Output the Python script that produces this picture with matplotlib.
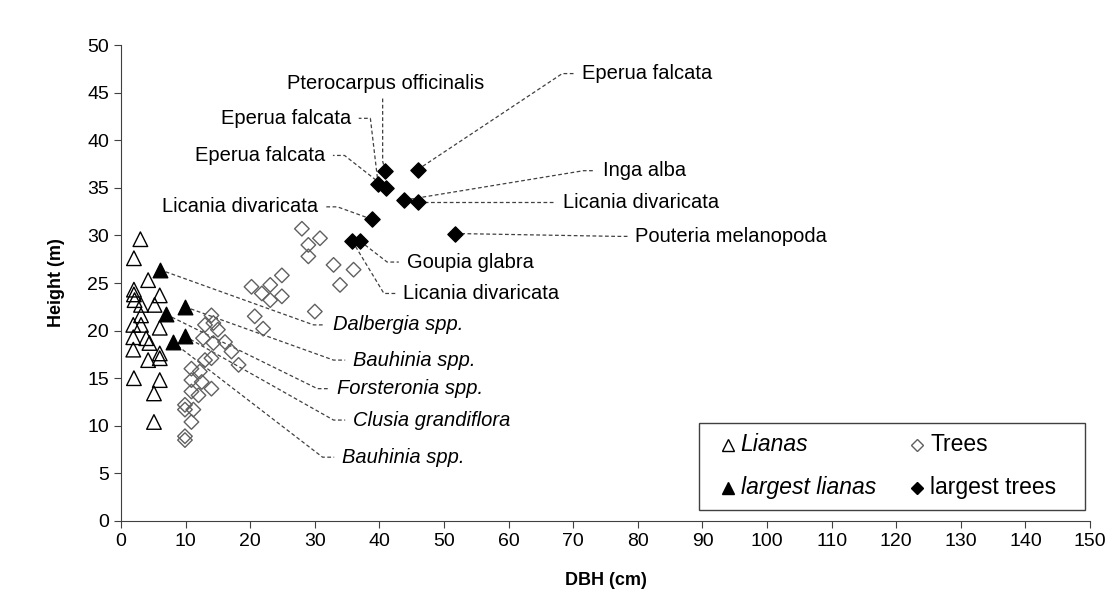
import matplotlib
matplotlib.use("Agg")
import matplotlib.pyplot as plt
from matplotlib.patches import Rectangle

plt.rcParams['font.family'] = ['Liberation Sans', 'DejaVu Sans']

# === data ===
lianas_dbh = [3.0, 2.0, 4.2, 2.0, 2.0, 2.1, 6.0, 5.2, 3.1, 3.1, 1.9, 3.1, 6.0, 1.9,
              3.9, 4.4, 1.9, 4.2, 6.0, 6.0, 2.0, 6.0, 5.1, 5.1]
lianas_h = [29.6, 27.6, 25.3, 24.3, 23.8, 23.2, 23.7, 22.7, 22.7, 21.6, 20.6, 20.6, 20.3, 19.3,
            19.2, 18.7, 18.0, 16.9, 17.1, 17.6, 15.0, 14.8, 13.4, 10.4]

trees_dbh = [14.0, 13.0, 14.3, 15.0, 12.7, 14.3, 16.1, 17.1, 13.0, 14.0, 18.2, 10.9,
             12.2, 10.9, 12.5, 14.0, 10.9, 12.0, 9.9, 11.2, 9.9, 10.9, 9.9, 9.9,
             28.0, 30.8, 29.0, 29.0, 32.9, 36.0, 33.9, 24.9, 20.2, 23.1, 21.8, 24.9,
             23.1, 30.0, 20.7, 22.0]
trees_h = [21.6, 20.6, 20.8, 20.1, 19.2, 18.7, 18.8, 17.8, 16.9, 17.1, 16.4, 16.0,
           15.7, 14.8, 14.6, 13.9, 13.6, 13.2, 12.2, 11.7, 11.7, 10.4, 8.9, 8.5,
           30.7, 29.7, 29.0, 27.8, 26.9, 26.4, 24.8, 25.8, 24.6, 24.8, 23.9, 23.6,
           23.2, 22.0, 21.5, 20.2]

big_lianas_dbh = [6.0, 9.9, 7.0, 8.0, 9.9]
big_lianas_h = [26.4, 22.5, 21.7, 18.8, 19.4]
big_lianas_names = ['Dalbergia spp.', 'Bauhinia spp.', 'Forsteronia spp.',
                    'Bauhinia spp.', 'Clusia grandiflora']

big_trees_dbh = [40.9, 45.9, 39.8, 41.0, 43.8, 45.9, 38.8, 35.8, 37.0, 51.7]
big_trees_h = [36.8, 36.9, 35.4, 35.0, 33.7, 33.5, 31.7, 29.4, 29.4, 30.2]
big_trees_names = ['Pterocarpus officinalis', 'Eperua falcata', 'Eperua falcata',
                   'Eperua falcata', 'Inga alba', 'Licania divaricata',
                   'Licania divaricata', 'Licania divaricata', 'Goupia glabra',
                   'Pouteria melanopoda']

# label placement (x, y, side) -- side: 'r' text right of line, 'l' text left, 't' above
lianas_lab_pos = [(32.8, 20.6, 'r'), (35.9, 16.9, 'r'), (33.4, 13.9, 'r'),
                  (34.2, 6.7, 'r'), (35.9, 10.6, 'r')]
trees_lab_pos = [(40.9, 46.0, 't'), (71.3, 47.0, 'r'), (35.6, 42.3, 'l'),
                 (31.6, 38.4, 'l'), (74.6, 36.8, 'r'), (68.4, 33.5, 'r'),
                 (30.5, 33.0, 'l'), (43.7, 23.9, 'r'), (44.2, 27.2, 'r'),
                 (79.6, 29.9, 'r')]

fig = plt.figure(figsize=(11.05, 6.02), dpi=100)
ax = fig.add_axes([0.1095, 0.1346, 0.877, 0.7906])

lead = dict(color='#404040', lw=0.9, ls=(0, (3, 2)), zorder=1)
gap, stub = 1.2, 1.8


def label(px, py, lx, ly, side, text, italic=False):
    style = 'italic' if italic else 'normal'
    if side == 'r':
        ax.plot([px, lx - gap - stub, lx - gap], [py, ly, ly], **lead)
        ax.text(lx, ly, text, ha='left', va='center', fontsize=14.5, style=style)
    elif side == 'l':
        ax.plot([px, lx + gap + stub, lx + gap], [py, ly, ly], **lead)
        ax.text(lx, ly, text, ha='right', va='center', fontsize=14.5, style=style)
    else:
        ax.plot([px, lx - 0.4, lx - 0.4], [py, py + 1.0, ly - 1.6], **lead)
        ax.text(lx, ly, text, ha='center', va='center', fontsize=14.5, style=style)


ax.scatter(lianas_dbh, lianas_h, marker='^', s=110, facecolors='none',
           edgecolors='black', linewidths=1.0, zorder=3)
ax.scatter(trees_dbh, trees_h, marker='D', s=55, facecolors='none',
           edgecolors='#606060', linewidths=1.0, zorder=3)
ax.scatter(big_lianas_dbh, big_lianas_h, marker='^', s=110, color='black', zorder=4)
ax.scatter(big_trees_dbh, big_trees_h, marker='D', s=60, color='black', zorder=4)

for x, y, (lx, ly, side), name in zip(big_lianas_dbh, big_lianas_h, lianas_lab_pos, big_lianas_names):
    label(x, y, lx, ly, side, name, italic=True)
for x, y, (lx, ly, side), name in zip(big_trees_dbh, big_trees_h, trees_lab_pos, big_trees_names):
    label(x, y, lx, ly, side, name)

ax.set_xlim(0, 150)
ax.set_ylim(0, 50)
ax.set_xticks(range(0, 151, 10))
ax.set_yticks(range(0, 51, 5))
ax.tick_params(labelsize=14, length=5, color='#404040', direction='out')
for s in ['top', 'right']:
    ax.spines[s].set_visible(False)
for s in ['left', 'bottom']:
    ax.spines[s].set_color('#404040')
ax.set_xlabel('DBH (cm)', fontsize=13, fontweight='bold', labelpad=16)
ax.set_ylabel('Height (m)', fontsize=13, fontweight='bold', labelpad=16)

# legend box drawn by hand (Excel style: symbol glyph + name, two columns)
ax.add_patch(Rectangle((0.5965, 0.0231), 0.3983, 0.1828, transform=ax.transAxes,
                       facecolor='white', edgecolor='#404040', lw=1.0, zorder=5))
leg_items = [('^', 'none', 'black', 8, 'Lianas', 'italic', 0.6259, 0.1597),
             ('^', 'black', 'black', 8, 'largest lianas', 'italic', 0.6259, 0.0693),
             ('D', 'none', '#606060', 6.5, 'Trees', 'normal', 0.8215, 0.1597),
             ('D', 'black', 'black', 6.5, 'largest trees', 'normal', 0.8215, 0.0693)]
for mk, fc, ec, ms, name, style, lx, ly in leg_items:
    ax.plot([lx], [ly], ls='none', marker=mk, ms=ms, mfc=fc, mec=ec, mew=1.0,
            transform=ax.transAxes, zorder=6, clip_on=False)
    ax.text(lx + 0.0134, ly, name, transform=ax.transAxes, fontsize=16.5,
            style=style, ha='left', va='center', zorder=6)

plt.savefig('out.png', dpi=100)
